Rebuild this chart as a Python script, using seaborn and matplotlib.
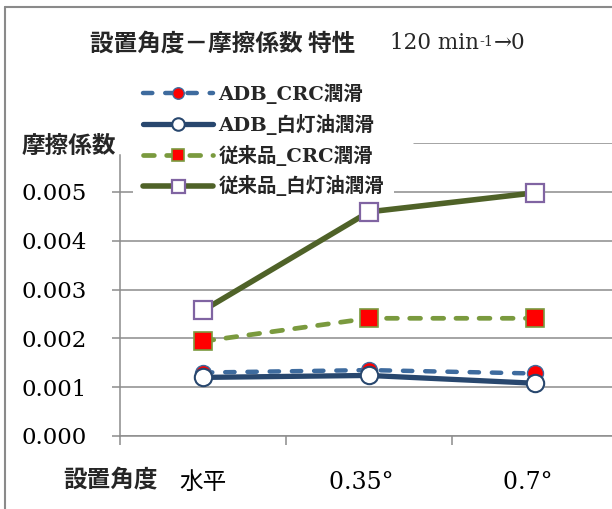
import matplotlib
matplotlib.use("Agg")
import matplotlib.pyplot as plt
import seaborn as sns
from matplotlib.lines import Line2D

# 設置角度ごとの摩擦係数
angles = ["水平", "0.35°  ", "0.7°  "]
adb_crc = [0.00130, 0.00135, 0.00128]
adb_kerosene = [0.00120, 0.00124, 0.00108]
conv_crc = [0.00194, 0.00241, 0.00241]
conv_kerosene = [0.00257, 0.00459, 0.00498]
series_names = ["ADB_CRC潤滑", "ADB_白灯油潤滑", "従来品_CRC潤滑", "従来品_白灯油潤滑"]
y_ticks = [0.000, 0.001, 0.002, 0.003, 0.004, 0.005]
y_tick_labels = ["0.000", "0.001", "0.002", "0.003", "0.004", "0.005"]

sns.set_theme(style="white")
SERIF_CJK = ["DejaVu Serif", "Noto Sans CJK JP"]
CJK = ["Noto Sans CJK JP", "DejaVu Sans"]
plt.rcParams["font.family"] = SERIF_CJK

W, H = 612, 509
fig = plt.figure(figsize=(W / 100, H / 100), dpi=100)
fig.patch.set_facecolor("white")

# plot area in pixel terms: x 120..618, y 143 (0.006) .. 436 (0)
ax = fig.add_axes([120 / W, (H - 436) / H, 498 / W, (436 - 143) / H])
ax.set_facecolor("white")

GRID = "#8C8C8C"
styles = [
    dict(color="#3E6B9E", linestyle=(0, (2.1, 2.9)), linewidth=3.2,
         dash_capstyle="round", marker="o", markersize=11.5,
         markerfacecolor="#FF0000", mec="#3E6B9E", mew=1.0),
    dict(color="#28476E", linestyle="-", linewidth=3.8,
         solid_capstyle="round", marker="o", markersize=12.5,
         markerfacecolor="white", mec="#28476E", mew=1.5),
    dict(color="#7A9A3E", linestyle=(0, (2.3, 2.6)), linewidth=3.4,
         dash_capstyle="round", marker="s", markersize=12.5,
         markerfacecolor="#FF0000", mec="#7A9A3E", mew=1.2),
    dict(color="#4F6228", linestyle="-", linewidth=4.0,
         solid_capstyle="round", marker="s", markersize=13,
         markerfacecolor="white", mec="#8064A2", mew=1.6),
]
values = [adb_crc, adb_kerosene, conv_crc, conv_kerosene]

for name, vals, st in zip(series_names, values, styles):
    sns.lineplot(x=angles, y=vals, ax=ax, label=name, sort=False,
                 estimator=None, errorbar=None, **st)

ax.set_xlabel("")
ax.set_ylabel("")

# axes limits and ticks
ax.set_xlim(-0.5, 2.5)
ax.set_ylim(0, 0.006)
ax.set_yticks(y_ticks)
ax.set_yticklabels(y_tick_labels)
ax.set_xticks([0, 1, 2])
ax.set_xticklabels(angles)
ax.set_xticks([-0.5, 0.5, 1.5, 2.5], minor=True)

ax.tick_params(axis="y", which="major", direction="out", length=5.8, width=1.1,
               color=GRID, pad=18, labelsize=16.5, labelcolor="black", left=True)
ax.tick_params(axis="x", which="major", length=0, pad=25, labelsize=17,
               labelcolor="black", bottom=True)
ax.tick_params(axis="x", which="minor", direction="out", length=6.5, width=1.1,
               color=GRID, bottom=True)

for lbl in ax.get_yticklabels() + ax.get_xticklabels():
    lbl.set_family(SERIF_CJK)

ax.grid(axis="y", color=GRID, linewidth=1.1)
ax.grid(axis="x", visible=False)
ax.axhline(0.006, xmin=0.59, color=GRID, linewidth=1.1, zorder=0.5)
ax.set_axisbelow(True)

for side in ("top", "right"):
    ax.spines[side].set_visible(False)
for side in ("left", "bottom"):
    ax.spines[side].set_color(GRID)
    ax.spines[side].set_linewidth(1.1)
ax.spines["left"].set_bounds(0, 0.00575)

# legend: white box over the gridlines, beneath the data lines
leg = ax.legend(loc="upper left", bbox_to_anchor=(133 / W, 1 - 74 / H),
                bbox_transform=fig.transFigure, frameon=True, fancybox=False,
                framealpha=1, edgecolor="none", facecolor="white",
                prop=dict(family=SERIF_CJK, weight="bold", size=14),
                handlelength=3.6, handletextpad=0.3, labelspacing=0.5,
                borderpad=0.5, borderaxespad=0, markerscale=0.72)
leg.set_zorder(1.5)

# axis titles
fig.text(22 / W, 1 - 146 / H, "摩擦係数", family=CJK, weight="bold",
         fontsize=17, ha="left", va="center")
fig.text(63 / W, 1 - 479 / H, "設置角度", family=CJK, weight="bold",
         fontsize=17, ha="left", va="center")

# chart title
t1 = fig.text(90 / W, 1 - 43 / H, "設置角度－摩擦係数 特性", family=CJK,
              weight="bold", fontsize=17, ha="left", va="center")
t2 = fig.text(390 / W, 1 - 43 / H, "120 min", family=SERIF_CJK,
              fontsize=15.5, ha="left", va="center")
t3 = ax.annotate("-1", xy=(1, 1), xycoords=t2, xytext=(0.5, -2),
                 textcoords="offset points", family=SERIF_CJK, fontsize=10.5,
                 ha="left", va="top", annotation_clip=False)
ax.annotate("→0", xy=(1, 0.5), xycoords=(t3, t2), xytext=(0, 0),
            textcoords="offset points", family=SERIF_CJK, fontsize=15.5,
            ha="left", va="center", annotation_clip=False)

# chart frame (left and top edges)
frame_kw = dict(transform=fig.transFigure, color="#8A8A8A", linewidth=1.5)
fig.add_artist(Line2D([5 / W, 5 / W], [0, 1 - 7 / H], **frame_kw))
fig.add_artist(Line2D([5 / W, 1], [1 - 7 / H, 1 - 7 / H], **frame_kw))

fig.savefig("out.png", dpi=100, facecolor="white")
